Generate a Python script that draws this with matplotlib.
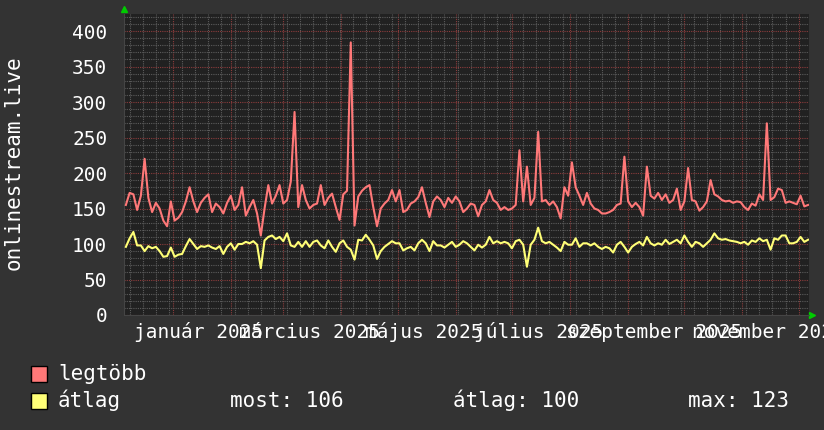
import numpy as np
import matplotlib
matplotlib.use("Agg")
import matplotlib.pyplot as plt
import matplotlib.dates as mdates
from matplotlib.patches import Rectangle
from matplotlib.ticker import MultipleLocator
from matplotlib.transforms import blended_transform_factory

# napi mintak, 2 naponta (2024-12-07 -> 2025-12-06)
start = "2024-12-07"
legtobb = [155, 172, 170, 148, 168, 220, 165, 145, 158, 150,
           133, 125, 160, 133, 137, 145, 160, 180, 160, 145,
           158, 165, 170, 145, 157, 152, 143, 158, 168, 148,
           155, 180, 140, 152, 162, 143, 112, 150, 183, 157,
           168, 183, 157, 162, 188, 286, 152, 183, 162, 150,
           155, 157, 183, 155, 165, 171, 152, 134, 170, 175,
           384, 126, 167, 175, 180, 183, 152, 125, 150, 157,
           162, 176, 160, 176, 145, 148, 157, 160, 166, 180,
           158, 138, 160, 167, 162, 152, 165, 158, 167, 160,
           145, 150, 157, 155, 139, 155, 160, 176, 162, 158,
           148, 152, 148, 150, 155, 232, 160, 209, 155, 165,
           258, 160, 162, 155, 160, 152, 136, 180, 168, 215,
           180, 168, 155, 172, 157, 150, 148, 143, 143, 145,
           148, 155, 157, 223, 160, 152, 158, 152, 140, 209,
           168, 164, 172, 162, 170, 158, 162, 178, 148, 160,
           207, 162, 160, 147, 152, 160, 190, 170, 167, 162,
           160, 161, 158, 160, 159, 152, 148, 157, 154, 170,
           162, 270, 162, 166, 178, 176, 158, 160, 158, 156,
           168, 153, 155]
atlag = [96, 108, 117, 98, 98, 90, 97, 94, 96, 90,
         82, 83, 95, 82, 85, 86, 97, 107, 100, 93,
         97, 96, 98, 95, 93, 97, 86, 96, 101, 92,
         100, 100, 103, 101, 104, 99, 66, 105, 110, 112,
         107, 110, 104, 115, 98, 96, 103, 96, 104, 96,
         103, 105, 98, 94, 105, 96, 89, 101, 105, 96,
         92, 78, 106, 105, 113, 106, 98, 79, 90, 96,
         100, 104, 101, 101, 91, 94, 96, 91, 101, 106,
         101, 90, 104, 98, 98, 95, 99, 103, 96, 99,
         104, 101, 96, 91, 99, 95, 99, 110, 101, 104,
         101, 103, 101, 94, 104, 106, 99, 68, 99, 106,
         123, 104, 101, 103, 99, 95, 90, 103, 99, 99,
         108, 96, 101, 101, 98, 101, 96, 93, 96, 94,
         88, 99, 103, 96, 88, 96, 100, 103, 98, 110,
         101, 98, 101, 99, 106, 100, 103, 106, 101, 112,
         103, 96, 103, 101, 96, 101, 106, 115, 108, 106,
         107, 105, 104, 103, 101, 103, 99, 105, 103, 108,
         104, 106, 92, 108, 106, 112, 112, 101, 101, 103,
         110, 103, 106]

label_dates = ["2025-01-15", "2025-03-15", "2025-05-15",
               "2025-07-15", "2025-09-15", "2025-11-15"]
label_texts = ["január 2025", "március 2025", "május 2025",
               "július 2025", "szeptember 2025", "november 2025"]
stats = ["most: 106", "átlag: 100", "max: 123"]

MONO = "DejaVu Sans Mono"
RED = "#ff7878"
YEL = "#ffff77"

dates = np.datetime64(start) + np.arange(len(legtobb)) * np.timedelta64(2, "D")

fig = plt.figure(figsize=(8.24, 4.30), dpi=100, facecolor="#333333")
ax = fig.add_axes([124 / 824, 1 - 315 / 430, 685 / 824, 301 / 430])
ax.set_facecolor("#212121")

ax.plot(dates, legtobb, color=RED, lw=1.5, zorder=3)
ax.plot(dates, atlag, color=YEL, lw=1.5, zorder=3)

ax.set_xlim(np.datetime64("2024-12-06"), np.datetime64("2025-12-06T12:00"))
ax.set_ylim(0, 424)

ax.xaxis.set_major_locator(mdates.MonthLocator())
ax.xaxis.set_minor_locator(mdates.WeekdayLocator(byweekday=mdates.MO))
ax.yaxis.set_major_locator(MultipleLocator(50))
ax.yaxis.set_minor_locator(MultipleLocator(10))
ax.grid(which="minor", color="#5c5c5c", linestyle=(0, (1, 1)), lw=0.8)
ax.grid(which="major", color="#8c3c3c", linestyle=(0, (1, 1)), lw=0.8)
ax.set_axisbelow(True)

ax.tick_params(axis="x", which="both", length=0, labelbottom=False)
ax.tick_params(axis="y", which="both", length=0, pad=12,
               labelsize=14, labelcolor="white")
for t in ax.get_yticklabels():
    t.set_family(MONO)

for s in ax.spines.values():
    s.set_visible(False)
ax.spines["left"].set_visible(True)
ax.spines["bottom"].set_visible(True)
ax.spines["left"].set_color("#454545")
ax.spines["bottom"].set_color("#454545")

# zold nyilak a tengelyek vegen
ax.plot([0], [1.015], marker="^", color="#00cc00", ms=4.5,
        transform=ax.transAxes, clip_on=False)
ax.plot([1.004], [0], marker=">", color="#00cc00", ms=4.5,
        transform=ax.transAxes, clip_on=False)

trans = blended_transform_factory(ax.transData, ax.transAxes)
for d, lab in zip(label_dates, label_texts):
    ax.text(mdates.date2num(np.datetime64(d)), -23 / 301, lab, transform=trans,
            ha="center", va="baseline", color="white", fontsize=14,
            family=MONO, clip_on=False)

fig.text(14 / 824, 1 - 163 / 430, "onlinestream.live", rotation=90,
         ha="center", va="center", color="white", fontsize=15, family=MONO)

# jelmagyarazat
for row, (col, name) in enumerate([(RED, "legtöbb"), (YEL, "átlag")]):
    top = 366 + row * 27
    fig.patches.append(Rectangle((31 / 824, 1 - (top + 16) / 430), 16 / 824, 16 / 430,
                                 transform=fig.transFigure, fc=col, ec="black", lw=1))
    fig.text(58 / 824, 1 - (top + 14) / 430, name, color="white",
             fontsize=15, family=MONO, va="baseline")

for xpos, s in zip([230, 453, 688], stats):
    fig.text(xpos / 824, 1 - 407 / 430, s, color="white",
             fontsize=15, family=MONO, va="baseline")

fig.savefig("out.png", dpi=100, facecolor=fig.get_facecolor())
